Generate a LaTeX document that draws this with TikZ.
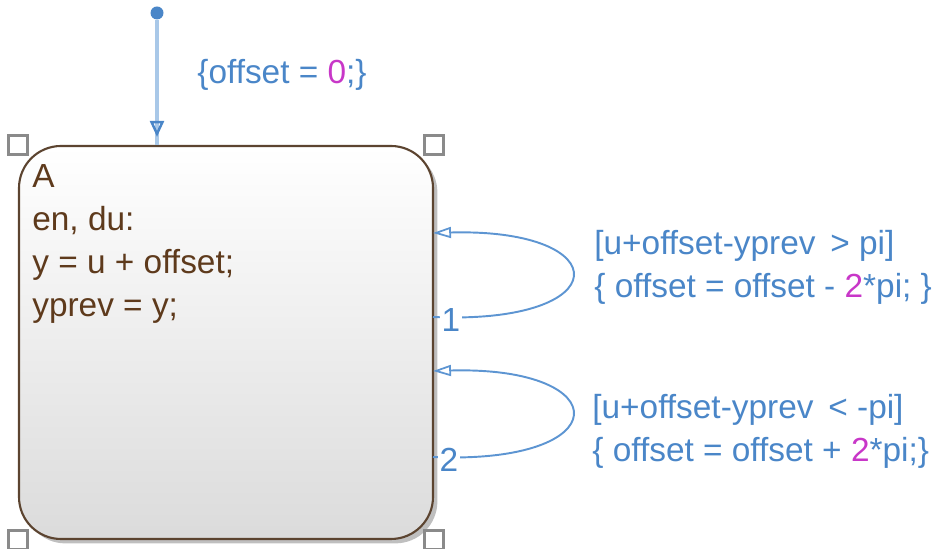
\documentclass[tikz,border=0pt]{standalone}
\usepackage{fontspec}
\setmainfont{Liberation Sans}
\usepackage{tikz}
\usetikzlibrary{positioning,arrows.meta,calc,shadows}
\definecolor{sfBrown}{HTML}{5C4430}
\definecolor{sfText}{HTML}{5E3A1C}
\definecolor{sfBlue}{HTML}{4A86C8}
\definecolor{sfLine}{HTML}{5D95D2}
\definecolor{sfPale}{HTML}{A9C8E8}
\definecolor{sfMag}{HTML}{C837C8}
\definecolor{sfGrey}{HTML}{8A8A8A}

\begin{document}
\begin{tikzpicture}[font=\fontsize{19}{24.5}\selectfont,
  trans/.style={draw=sfLine, line width=1.1pt, -{Triangle[open, length=0.36cm, width=0.22cm, line width=1pt]}},
  handle/.style={draw=sfGrey, line width=1.3pt, minimum size=0.38cm, inner sep=0pt},
  guard/.style={text=sfBlue, align=left, anchor=west, inner sep=0pt},
  order/.style={text=sfBlue, fill=white, inner sep=1pt}]
\useasboundingbox (0,0) rectangle (18.88,10.98);
% state A
\node[draw=sfBrown, line width=1.2pt, rounded corners=0.84cm, minimum width=8.28cm, minimum height=7.86cm,
  top color=white, bottom color=black!14,
  drop shadow={shadow xshift=2.5pt, shadow yshift=-2.5pt, fill=black!50, opacity=0.5}] (A) at (4.52,4.13) {};
\node[text=sfText, align=left, anchor=north west, inner sep=0pt] (body) at (0.64,7.70)
  {A\\ en, du:\\ y = u + offset;\\ yprev = y;};
\node[handle] (hnw) at (A.north west) {};
\node[handle] (hne) at (A.north east) {};
\node[handle] (hsw) at (A.south west) {};
\node[handle] (hse) at (A.south east) {};
% default transition
\node[circle, fill=sfBlue, inner sep=0pt, minimum size=0.26cm] (dot) at (3.14,10.72) {};
\draw[sfPale, line width=2.8pt] (dot) -- (dot |- A.north);
\draw[sfPale, line width=2.8pt, -{Triangle[open, length=0.32cm, width=0.28cm, line width=1.4pt, color=sfBlue]}]
  (dot) -- ($(dot |- A.north)+(0,0.16)$);
\node[guard] (g0) at (3.94,9.48) {\{offset = \textcolor{sfMag}{0};\}};
% self loops
\coordinate (s1) at (8.66,4.64);
\coordinate (e1) at (8.66,6.32);
\coordinate (s2) at (8.66,1.84);
\coordinate (e2) at (8.66,3.56);
\draw[trans] (s1) .. controls (12.36,4.48) and (12.36,6.42) .. (e1);
\draw[trans] (s2) .. controls (12.36,1.68) and (12.36,3.66) .. (e2);
\node[order] (n1) at (9.02,4.58) {1};
\node[order] (n2) at (8.98,1.78) {2};
\node[guard] (g1) at (11.88,5.64) {[u+offset-yprev \,> pi]\\ \{ offset = offset - \textcolor{sfMag}{2}*pi; \}};
\node[guard] (g2) at (11.84,2.36) {[u+offset-yprev \,< -pi]\\ \{ offset = offset + \textcolor{sfMag}{2}*pi;\}};
\end{tikzpicture}
\end{document}
